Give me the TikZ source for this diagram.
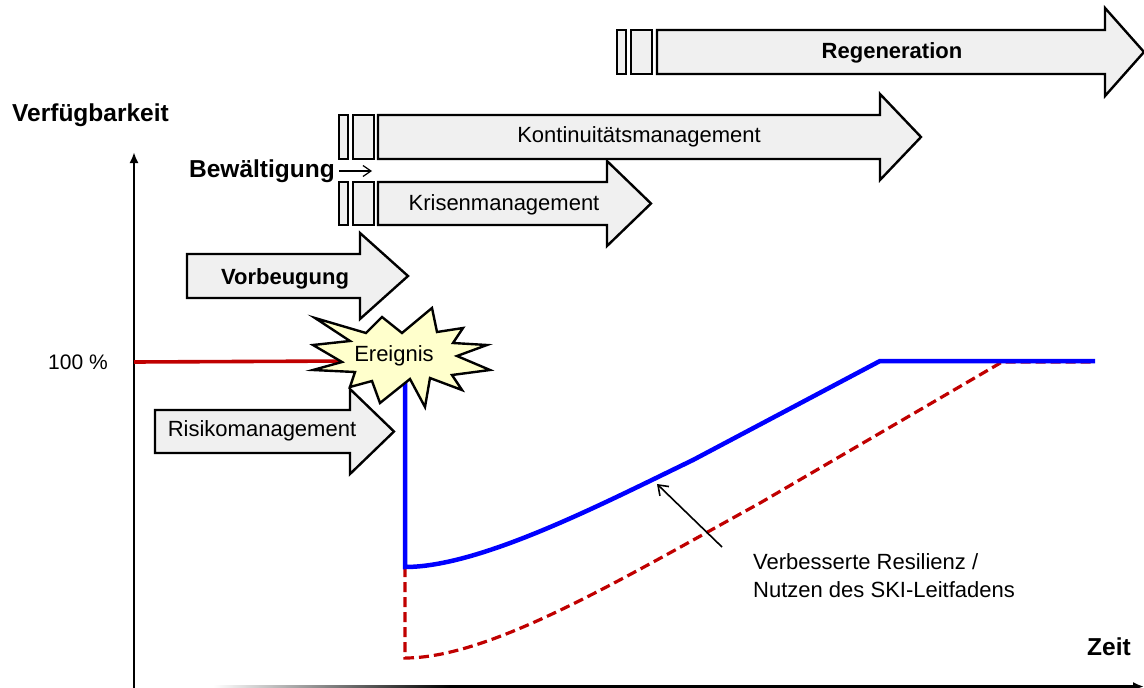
\documentclass[tikz,border=0pt]{standalone}
\usepackage{fontspec}
\setmainfont{Liberation Sans}
\usetikzlibrary{arrows.meta}
\definecolor{boxfill}{RGB}{240,240,240}
\definecolor{burstfill}{RGB}{255,255,204}
\definecolor{lossred}{RGB}{192,0,0}
\definecolor{gainblue}{RGB}{0,0,255}

% block arrow: #1 left x, #2 head base x, #3 tip x, #4 top y, #5 bottom y, #6 head overhang
\newcommand\phasearrow[6]{%
  \draw[phasebox] (#1,#4) -- (#2,#4) -- (#2,{#4-#6}) -- (#3,{(#4+#5)/2})
    -- (#2,{#5+#6}) -- (#2,#5) -- (#1,#5) -- cycle;}
% the two narrow bars in front of a phase arrow: #1 left x, #2 top y, #3 bottom y
\newcommand\phasebars[3]{%
  \draw[phasebox] (#1,#2) rectangle ({#1+9},#3);
  \draw[phasebox] ({#1+14},#2) rectangle ({#1+35},#3);}

\begin{document}
\begin{tikzpicture}[x=1pt,y=-1pt,
  phasebox/.style={draw=black,line width=2.4pt,fill=boxfill,line join=miter},
  lbl/.style={font=\fontsize{22}{28}\selectfont,inner sep=0pt},
  blbl/.style={font=\fontsize{22}{28}\selectfont\bfseries,inner sep=0pt},
  bigbl/.style={font=\fontsize{24.5}{30}\selectfont\bfseries,inner sep=0pt},
  axisline/.style={line width=2.4pt,-{Latex[length=11pt,width=9pt]}},
  burst/.style={draw=black,line width=2.4pt,fill=burstfill,line join=miter},
  pointer/.style={line width=1.6pt,-{Straight Barb[length=9pt,width=13pt]}}]
\useasboundingbox (0,0) rectangle (1144,688);

% axes
\draw[axisline] (134,688) -- (134,152);
\shade[left color=white,right color=black] (213,685.3) rectangle (450,687.7);
\draw[axisline] (449,686.5) -- (1144,686.5);

% availability without and with improved resilience
\draw[lossred,line width=3.2pt,dash pattern=on 10pt off 5pt]
  (405,567) -- (405,658) .. controls (490,658) and (620,580) .. (760,503)
  -- (1002,362) -- (1095,362);
\draw[gainblue,line width=4.5pt]
  (405,360) -- (405,567) .. controls (480,567) and (600,505) .. (693,460)
  -- (880,361) -- (1095,361);
\draw[lossred,line width=3.6pt] (134,362) -- (350,361);

% phase arrows
\phasebars{617}{30}{74}
\phasearrow{657}{1105}{1144}{30}{74}{22}
\phasebars{339}{115}{159}
\phasearrow{378}{880}{921}{115}{159}{21}
\phasebars{339}{182}{225}
\phasearrow{378}{607}{651}{182}{225}{21}
\phasearrow{187}{360}{408}{254}{298}{21}
\phasearrow{155}{350}{394}{410}{453}{21}

% the event
\draw[burst] (315,318) -- (366,333) -- (382,317) -- (402,333) -- (432,308)
  -- (437,332) -- (463,328) -- (453,343) -- (487,345) -- (457,356)
  -- (490,370) -- (452,375) -- (462,390) -- (430,378) -- (425,407)
  -- (410,379) -- (380,403) -- (372,381) -- (350,387) -- (355,372)
  -- (313,370) -- (342,362) -- (313,345) -- (350,341) -- cycle;
\node[lbl] (event) at (394,356) {Ereignis};

% labels
\node[blbl] (regen) at (892,53) {Regeneration};
\node[lbl] (konti) at (639,137) {Kontinuitätsmanagement};
\node[lbl] (krise) at (504,205) {Krisenmanagement};
\node[bigbl,anchor=east] (coping) at (335,171) {Bewältigung};
\node[blbl] (prevent) at (285,279) {Vorbeugung};
\node[lbl] (risk) at (262,431) {Risikomanagement};
\node[font=\fontsize{21}{27}\selectfont,inner sep=0pt] (full) at (78,362) {100 \%};
\node[bigbl,anchor=west] (avail) at (12,115) {Verfügbarkeit};
\node[bigbl] (time) at (1109,647) {Zeit};
\node[lbl,anchor=west,align=left] (benefit) at (753,576)
  {Verbesserte Resilienz /\\Nutzen des SKI-Leitfadens};

% pointers
\coordinate (copyEnd) at (372,171);
\draw[line width=1.2pt,-{Straight Barb[length=8pt,width=11pt]}] ([xshift=4pt]coping.east) -- (copyEnd);
\coordinate (benefitFoot) at (722,547);
\coordinate (curveMark) at (657,484);
\draw[pointer] (benefitFoot) -- (curveMark);
\end{tikzpicture}
\end{document}
